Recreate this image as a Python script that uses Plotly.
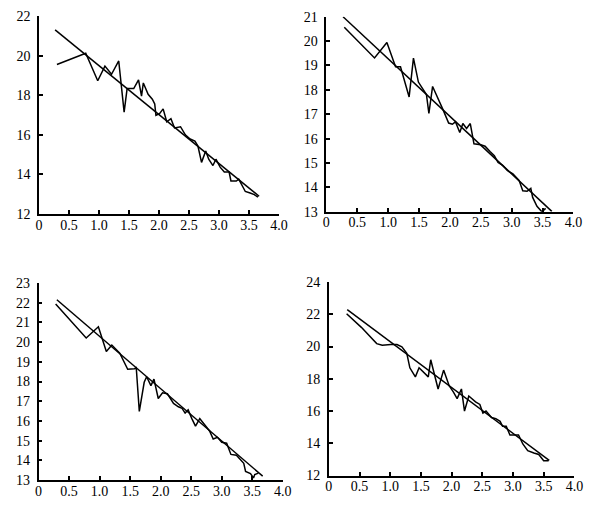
import plotly.graph_objects as go

# Panel 1 (top-left)
x1 = [0.30,0.78,0.98,1.10,1.21,1.33,1.42,1.47,1.58,1.66,1.71,1.74,1.82,1.89,1.93,1.95,2.01,2.07,2.13,2.20,2.26,2.36,2.44,2.52,2.60,2.65,2.71,2.78,2.83,2.90,2.95,3.02,3.09,3.17,3.20,3.29,3.33,3.44,3.52,3.59,3.65]
y1 = [19.55,20.12,18.73,19.47,19.06,19.73,17.15,18.34,18.34,18.78,17.96,18.62,18.05,17.80,17.56,16.98,17.07,17.31,16.66,16.82,16.35,16.41,16.00,15.79,15.68,15.43,14.61,15.19,14.77,14.45,14.77,14.37,14.12,14.12,13.67,13.67,13.76,13.14,13.06,12.98,12.85]
fit1_x = [0.27, 3.67]
fit1_y = [21.30, 12.90]

# Panel 2 (top-right)
x2 = [0.29,0.78,0.98,1.12,1.20,1.34,1.41,1.49,1.62,1.66,1.72,1.81,1.89,1.98,2.04,2.09,2.16,2.21,2.27,2.33,2.39,2.50,2.57,2.65,2.72,2.78,2.85,2.93,3.02,3.12,3.18,3.25,3.31,3.34,3.41,3.49,3.55]
y2 = [20.57,19.31,19.94,18.95,18.95,17.71,19.30,18.32,17.81,17.04,18.14,17.65,17.18,16.64,16.59,16.69,16.25,16.62,16.42,16.62,15.79,15.75,15.69,15.47,15.30,15.02,14.92,14.70,14.56,14.29,13.86,13.84,13.96,13.59,13.23,13.00,13.14]
fit2_x = [0.27, 3.65]
fit2_y = [21.00, 13.02]

# Panel 3 (bottom-left)
x3 = [0.28,0.78,0.98,1.11,1.20,1.33,1.46,1.57,1.60,1.65,1.73,1.77,1.84,1.89,1.96,2.03,2.11,2.21,2.29,2.35,2.40,2.45,2.51,2.57,2.64,2.80,2.86,2.93,3.00,3.08,3.15,3.24,3.36,3.39,3.47,3.52,3.54,3.60]
y3 = [21.93,20.21,20.78,19.52,19.85,19.44,18.62,18.65,18.70,16.48,17.96,18.24,17.79,18.12,17.14,17.43,17.38,16.89,16.72,16.64,16.40,16.56,16.12,15.74,16.12,15.49,15.08,15.17,14.92,14.87,14.30,14.26,13.85,13.44,13.33,13.11,13.28,13.35]
fit3_x = [0.30, 3.67]
fit3_y = [22.15, 13.20]

# Panel 4 (bottom-right)
x4 = [0.29,0.53,0.78,0.87,1.01,1.11,1.19,1.27,1.32,1.41,1.47,1.62,1.66,1.78,1.87,1.96,2.03,2.09,2.16,2.21,2.28,2.39,2.46,2.51,2.56,2.65,2.72,2.79,2.83,2.89,2.95,3.09,3.16,3.24,3.34,3.42,3.50,3.58]
y4 = [22.03,21.19,20.18,20.08,20.12,20.12,19.98,19.58,18.68,18.12,18.68,18.12,19.18,17.37,18.54,17.57,17.17,16.77,17.37,16.00,16.93,16.57,16.41,15.87,16.00,15.60,15.53,15.36,15.06,15.06,14.52,14.52,13.96,13.55,13.40,13.31,12.92,12.92]
fit4_x = [0.30, 3.59]
fit4_y = [22.29, 12.94]

x_ticks = [0, 0.5, 1.0, 1.5, 2.0, 2.5, 3.0, 3.5, 4.0]
x_ticktext = ["0", "0.5", "1.0", "1.5", "2.0", "2.5", "3.0", "3.5", "4.0"]
y_ticks1 = [12, 14, 16, 18, 20, 22]
y_ticks2 = [13, 14, 15, 16, 17, 18, 19, 20, 21]
y_ticks3 = [13, 14, 15, 16, 17, 18, 19, 20, 21, 22, 23]
y_ticks4 = [12, 14, 16, 18, 20, 22, 24]

W, H = 601, 513
panels = [
    # (zig x, zig y, fit x, fit y, yticks, px left, px right, py top, py bottom)
    (x1, y1, fit1_x, fit1_y, y_ticks1, 35.7, 281, 9.3, 213.3),
    (x2, y2, fit2_x, fit2_y, y_ticks2, 329.5, 582, 10, 211),
    (x3, y3, fit3_x, fit3_y, y_ticks3, 35.3, 285, 284.3, 487.3),
    (x4, y4, fit4_x, fit4_y, y_ticks4, 332, 583, 283.3, 482.7),
]

fig = go.Figure()
font = dict(family="Liberation Serif, Times New Roman, serif", size=14, color="black")
layout = dict(width=W, height=H, margin=dict(l=0, r=0, t=0, b=0),
              paper_bgcolor="white", plot_bgcolor="white", showlegend=False, font=font)

for i, (zx, zy, fx, fy, yt, l, r, t, b) in enumerate(panels, start=1):
    sx = "" if i == 1 else str(i)
    fig.add_trace(go.Scatter(x=zx, y=zy, mode="lines", line=dict(color="black", width=1.5),
                             xaxis="x" + sx, yaxis="y" + sx, cliponaxis=False))
    fig.add_trace(go.Scatter(x=fx, y=fy, mode="lines", line=dict(color="black", width=1.5),
                             xaxis="x" + sx, yaxis="y" + sx, cliponaxis=False))
    layout["xaxis" + sx] = dict(domain=[l / W, r / W], anchor="y" + sx, range=[0, 4],
                                tickvals=x_ticks, ticktext=x_ticktext, showline=True,
                                linecolor="black", linewidth=1.5, ticks="inside", ticklen=4,
                                tickwidth=1.5, tickcolor="black", showgrid=False, zeroline=False,
                                tickfont=font, ticklabelstandoff=-3)
    layout["yaxis" + sx] = dict(domain=[1 - b / H, 1 - t / H], anchor="x" + sx,
                                range=[yt[0], yt[-1]], tickvals=yt, showline=True,
                                linecolor="black", linewidth=1.5, ticks="inside", ticklen=4,
                                tickwidth=1.5, tickcolor="black", showgrid=False, zeroline=False,
                                tickfont=font, ticklabelstandoff=4)

fig.update_layout(**layout)
fig.write_html("out.html")
